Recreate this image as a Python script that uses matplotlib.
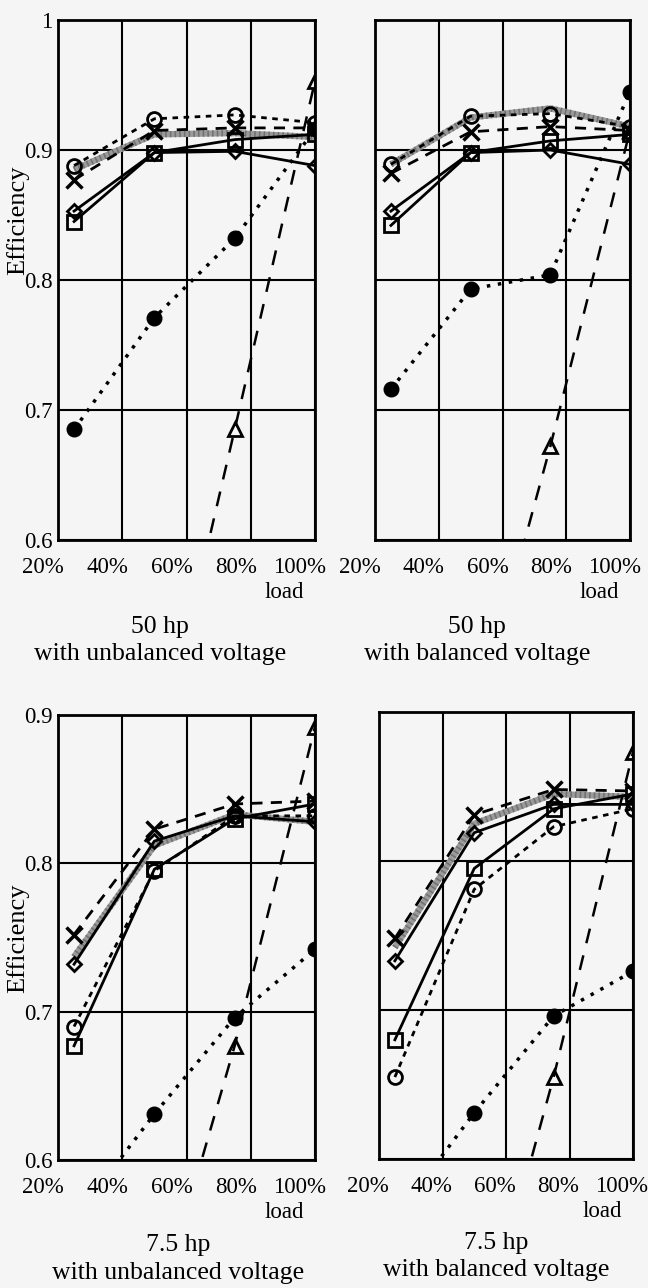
import matplotlib
matplotlib.use("Agg")
import matplotlib.pyplot as plt
import numpy as np
from matplotlib.transforms import ScaledTranslation

plt.rcParams['font.family'] = ['Liberation Serif', 'DejaVu Serif']

# wspolne punkty obciazenia
load = [0.25, 0.5, 0.75, 1.0]
x_ticks = [0.2, 0.4, 0.6, 0.8, 1.0]
x_labels = ["20%", "40%", "60%", "80%", "100%"]

# 50 hp, napiecie niesymetryczne
a_fcircle = [0.685, 0.771, 0.832, 0.916]
a_triangle = [np.nan, 0.42, 0.685, 0.953]
a_square = [0.845, 0.898, 0.908, 0.912]
a_diamond = [0.853, 0.898, 0.899, 0.888]
a_cross = [0.877, 0.915, 0.917, 0.917]
a_ocircle = [0.888, 0.924, 0.927, 0.921]
a_gray = [0.885, 0.912, 0.913, 0.910]

# 50 hp, napiecie symetryczne
b_fcircle = [0.716, 0.793, 0.804, 0.945]
b_triangle = [np.nan, 0.447, 0.672, 0.915]
b_square = [0.842, 0.898, 0.907, 0.912]
b_diamond = [0.853, 0.898, 0.900, 0.889]
b_cross = [0.882, 0.914, 0.918, 0.915]
b_ocircle = [0.889, 0.926, 0.928, 0.918]
b_gray = [0.889, 0.925, 0.932, 0.918]

# 7.5 hp, napiecie niesymetryczne
c_fcircle = [0.56, 0.631, 0.696, 0.742]
c_triangle = [np.nan, 0.49, 0.677, 0.892]
c_square = [0.677, 0.796, 0.83, 0.84]
c_diamond = [0.732, 0.815, 0.832, 0.828]
c_cross = [0.752, 0.823, 0.840, 0.842]
c_ocircle = [0.69, 0.795, 0.832, 0.832]
c_gray = [0.737, 0.812, 0.833, 0.828]

# 7.5 hp, napiecie symetryczne
d_fcircle = [0.56, 0.631, 0.696, 0.726]
d_triangle = [np.nan, 0.46, 0.655, 0.873]
d_square = [0.68, 0.795, 0.835, 0.845]
d_diamond = [0.733, 0.819, 0.838, 0.838]
d_cross = [0.748, 0.831, 0.848, 0.847]
d_ocircle = [0.655, 0.781, 0.823, 0.835]
d_gray = [0.742, 0.825, 0.845, 0.843]

BG = '#f5f5f5'
W, H = 648, 1288

fig = plt.figure(figsize=(W / 100, H / 100), dpi=100, facecolor=BG)


def px_box(x0, y0, x1, y1):
    return [x0 / W, 1 - y1 / H, (x1 - x0) / W, (y1 - y0) / H]


def draw_panel(ax, fcircle, triangle, square, diamond, cross, ocircle, gray,
               ymax, ylabels, xoff=-15):
    ax.set_facecolor(BG)
    ax.plot(load, gray, color='#9a9a9a', lw=4.5, zorder=2, solid_capstyle='butt')
    ax.plot(load, gray, color='#707070', lw=4.5, ls=(0, (0.25, 0.5)), zorder=2)
    ax.plot(load, fcircle, color='black', lw=2.5, ls=(0, (1, 2.2)), marker='o',
            ms=10.5, mfc='black', mec='black', zorder=4)
    ax.plot(load, triangle, color='black', lw=1.8, ls=(0, (6, 5)), marker='^',
            ms=10, mfc='none', mec='black', mew=2, zorder=4)
    ax.plot(load, square, color='black', lw=2, marker='s', ms=10,
            mfc='none', mec='black', mew=2, zorder=3)
    ax.plot(load, diamond, color='black', lw=2, marker='D', ms=7.5,
            mfc='none', mec='black', mew=2, zorder=3)
    ax.plot(load, cross, color='black', lw=2, ls=(0, (4, 3)), marker='x',
            ms=11, mew=2.5, zorder=3)
    ax.plot(load, ocircle, color='black', lw=2, ls=(0, (2, 2)), marker='o',
            ms=10, mfc='none', mec='black', mew=2, zorder=3)

    ax.set_xlim(0.2, 1.0)
    ax.set_ylim(0.6, ymax)
    ax.set_xticks(x_ticks)
    ax.set_xticklabels(x_labels, fontsize=16.5)
    yt = np.round(np.arange(0.6, ymax + 0.001, 0.1), 1)
    ax.set_yticks(yt)
    if ylabels:
        ax.set_yticklabels(["1" if v == 1.0 else f"{v:.1f}" for v in yt], fontsize=16.5)
    else:
        ax.set_yticklabels([])
    ax.tick_params(length=0, pad=4, axis='y')
    ax.tick_params(length=0, pad=12.5, axis='x')
    ax.grid(True, color='black', lw=1.5)
    ax.set_axisbelow(True)
    for s in ax.spines.values():
        s.set_linewidth(2)
    # etykiety osi X przesuniete w lewo jak na oryginale
    off = ScaledTranslation(xoff / 100, 0, fig.dpi_scale_trans)
    for lab in ax.get_xticklabels():
        lab.set_transform(lab.get_transform() + off)
    ax.annotate("load", xy=(1, 0), xycoords='axes fraction', xytext=(-22, -38),
                textcoords='offset points', ha='center', va='center', fontsize=16.5)


ax1 = fig.add_axes(px_box(58, 20, 315, 540))
ax2 = fig.add_axes(px_box(375, 20, 630, 540))
ax3 = fig.add_axes(px_box(58, 715, 315, 1160))
ax4 = fig.add_axes(px_box(379, 712, 633, 1159))

draw_panel(ax1, a_fcircle, a_triangle, a_square, a_diamond, a_cross, a_ocircle, a_gray, 1.0, True)
draw_panel(ax2, b_fcircle, b_triangle, b_square, b_diamond, b_cross, b_ocircle, b_gray, 1.0, False)
draw_panel(ax3, c_fcircle, c_triangle, c_square, c_diamond, c_cross, c_ocircle, c_gray, 0.9, True)
draw_panel(ax4, d_fcircle, d_triangle, d_square, d_diamond, d_cross, d_ocircle, d_gray, 0.9, False,
           xoff=-11)


def ftext(x, y, s, **kw):
    fig.text(x / W, 1 - y / H, s, ha='center', va='center', **kw)


ftext(18, 220, "Efficiency", rotation=90, fontsize=19)
ftext(18, 938, "Efficiency", rotation=90, fontsize=19)

ftext(160, 627, "50 hp", fontsize=18.5)
ftext(160, 654, "with unbalanced voltage", fontsize=18.5)
ftext(477, 627, "50 hp", fontsize=18.5)
ftext(477, 654, "with balanced voltage", fontsize=18.5)
ftext(178, 1245, "7.5 hp", fontsize=18.5)
ftext(178, 1273, "with unbalanced voltage", fontsize=18.5)
ftext(496, 1243, "7.5 hp", fontsize=18.5)
ftext(496, 1270, "with balanced voltage", fontsize=18.5)

fig.savefig("out.png", dpi=100, facecolor=BG)
